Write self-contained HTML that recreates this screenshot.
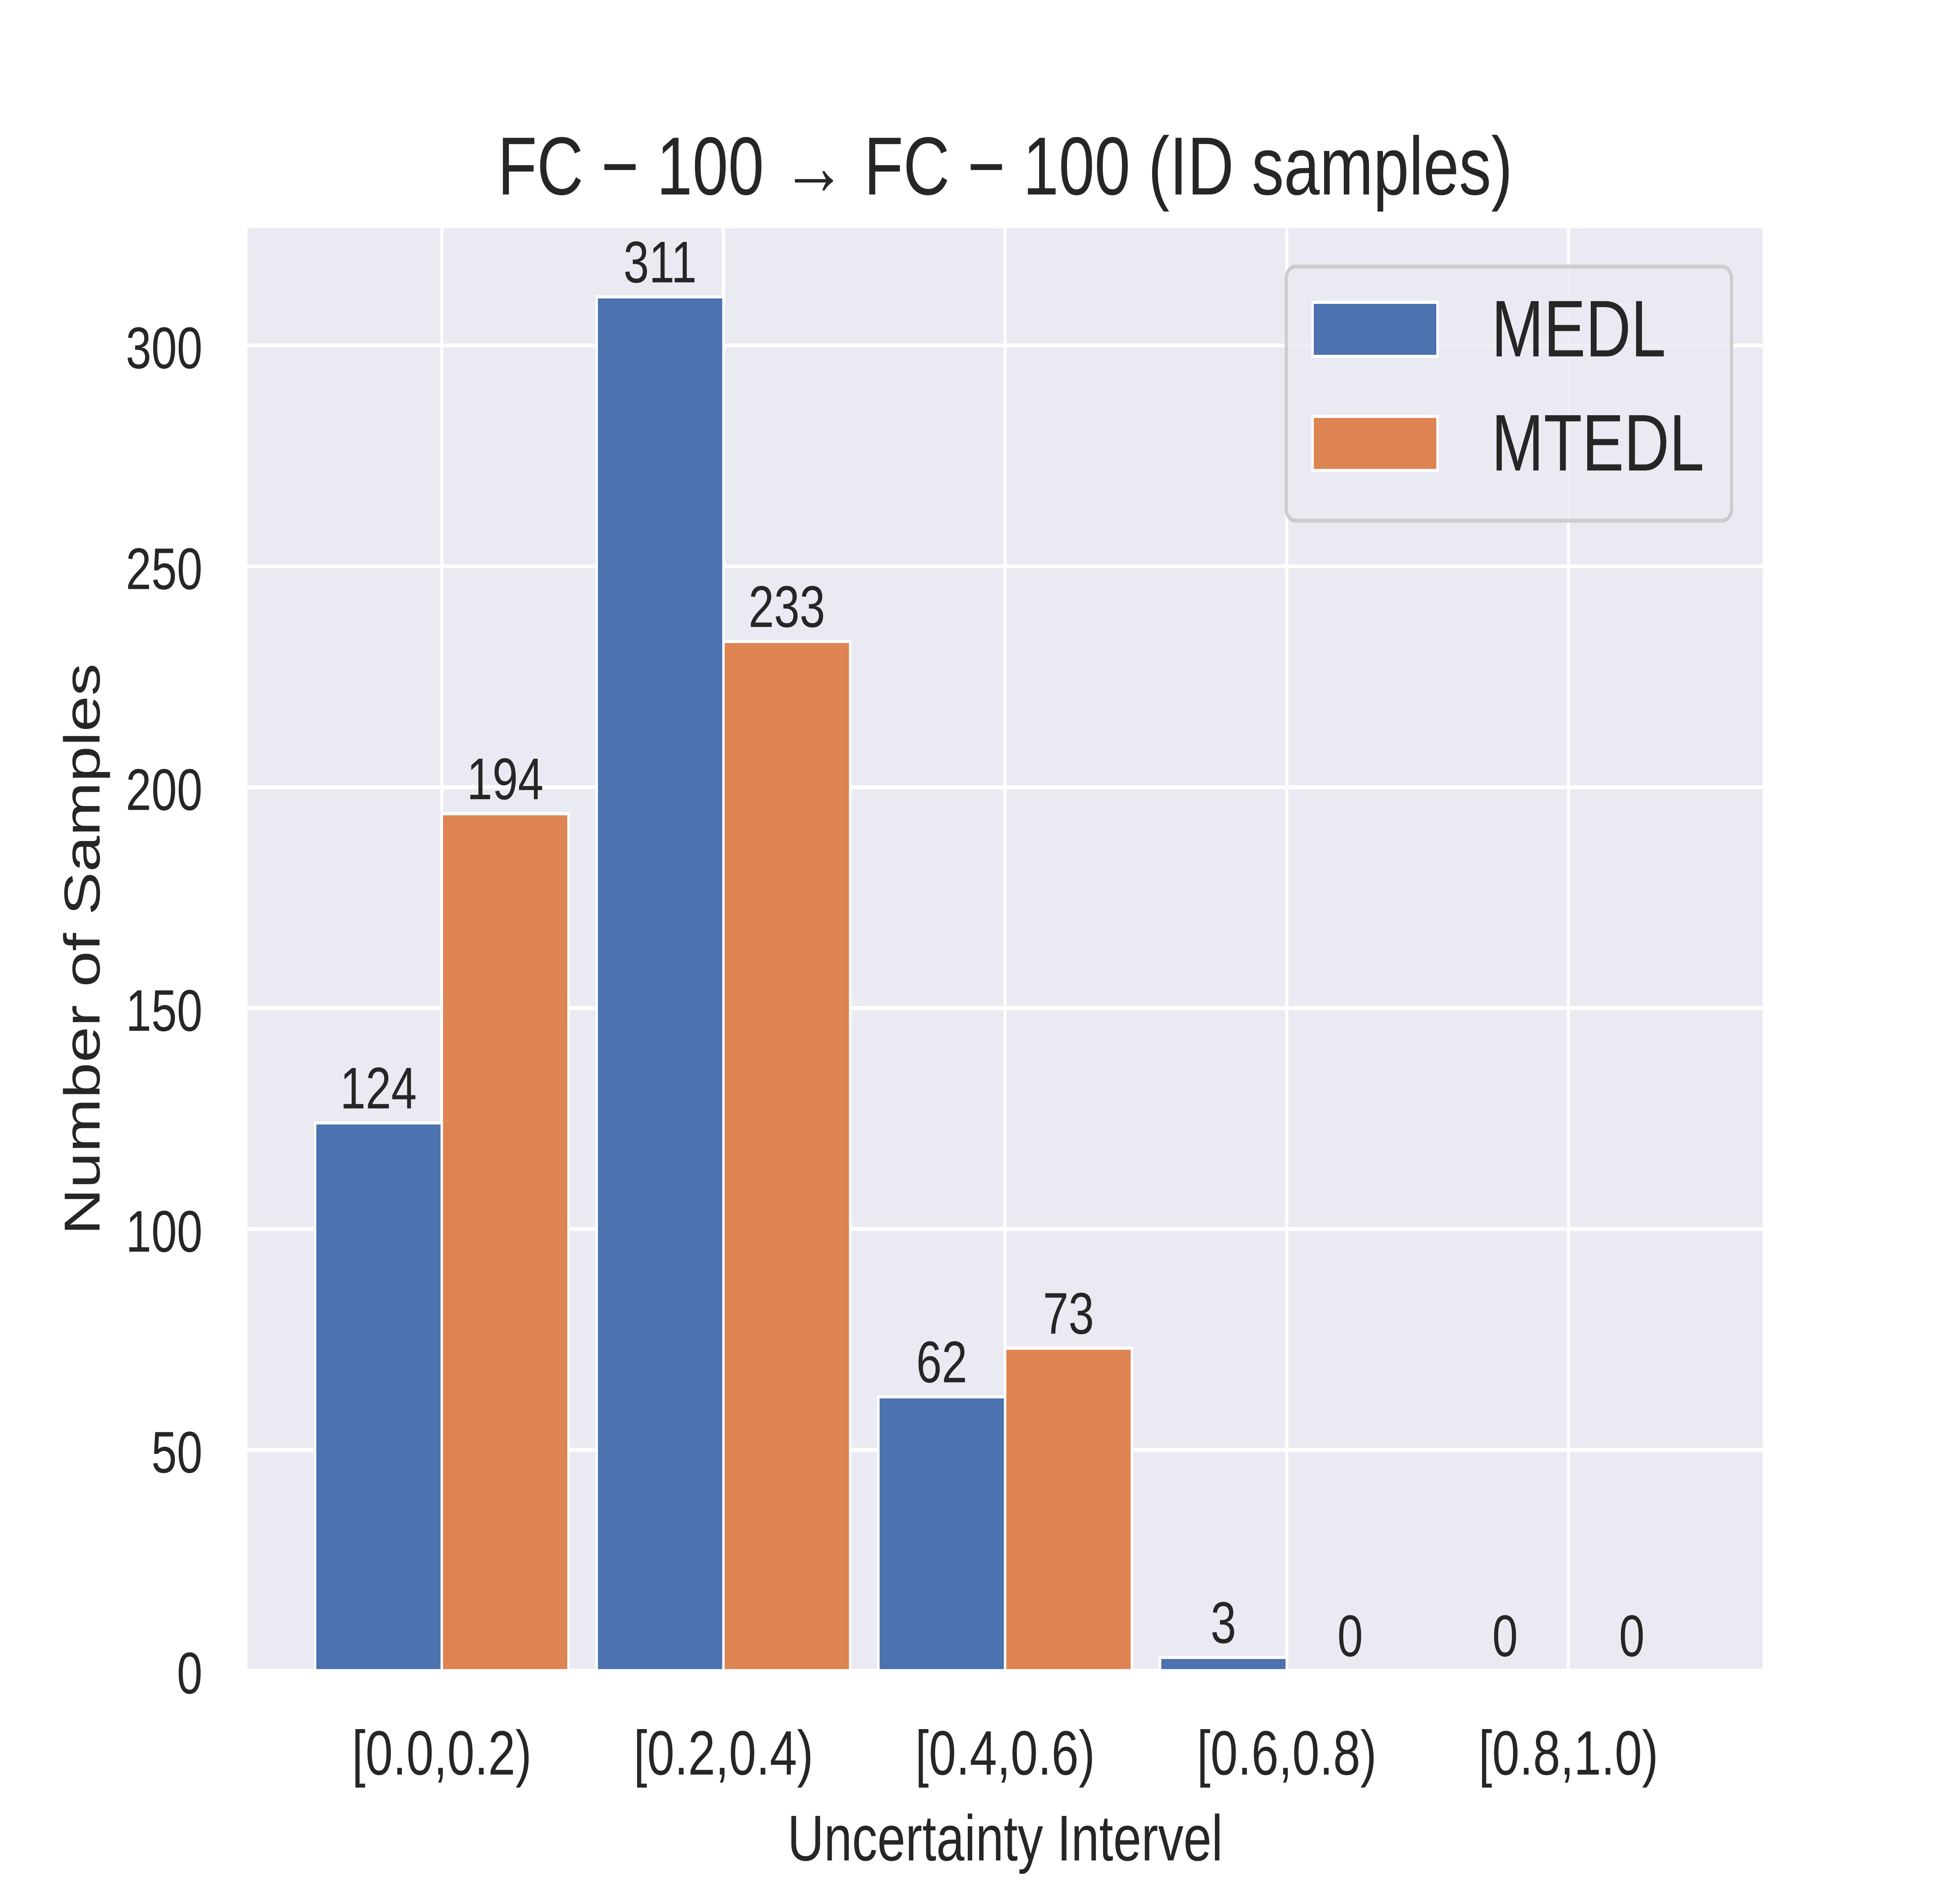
<!DOCTYPE html>
<html><head><meta charset="utf-8">
<style>
html,body{margin:0;padding:0;background:#fff;width:100%;height:100%;overflow:hidden;}
svg{display:block;width:100vw;height:100vh;}
text{font-family:"Liberation Sans","DejaVu Sans",sans-serif;fill:#262626;}
</style></head>
<body>
<svg id="chart" viewBox="0 0 6400 4800" preserveAspectRatio="none" xmlns="http://www.w3.org/2000/svg">
<rect x="808" y="582" width="4948" height="3679" fill="#eaeaf2"/>
<g id="grid"></g>
<g id="bars"></g>
<g id="labels"></g>
<g id="ticks"></g>
<text x="3282" y="496" font-size="210" text-anchor="middle">FC − 100 → FC − 100 (ID samples)</text>
<text x="3282" y="4745" font-size="165" text-anchor="middle">Uncertainty Intervel</text>
<text x="0" y="0" font-size="165" text-anchor="middle" transform="translate(325,2421) rotate(-90)">Number of Samples</text>
<g>
<rect x="4200" y="680" width="1454" height="648" rx="30" fill="#eaeaf2" fill-opacity="0.8" stroke="#cccccc" stroke-width="10"/>
<rect x="4286" y="771" width="408" height="138" fill="#4c72b0" stroke="#fff" stroke-width="8"/>
<text x="4870" y="909" font-size="205">MEDL</text>
<rect x="4286" y="1062" width="408" height="138" fill="#dd8452" stroke="#fff" stroke-width="8"/>
<text x="4870" y="1200" font-size="205">MTEDL</text>
</g>
</svg>
<script>
const categories = ["[0.0,0.2)", "[0.2,0.4)", "[0.4,0.6)", "[0.6,0.8)", "[0.8,1.0)"];
const medlValues = [124, 311, 62, 3, 0];
const mtedlValues = [194, 233, 73, 0, 0];
const yTickValues = [0, 50, 100, 150, 200, 250, 300];

const NS = "http://www.w3.org/2000/svg";
const L = 808, R = 5756, T = 582, B = 4261;
const xMin = -0.69, xMax = categories.length - 1 + 0.69;
const yMax = Math.max(...medlValues, ...mtedlValues) * 1.05;
function xScale(v){ return L + (v - xMin) / (xMax - xMin) * (R - L); }
function yScale(v){ return B - v / yMax * (B - T); }
function mk(tag, attrs, parent){
  const e = document.createElementNS(NS, tag);
  for (const k in attrs) e.setAttribute(k, attrs[k]);
  parent.appendChild(e);
  return e;
}
const grid = document.getElementById('grid');
const bars = document.getElementById('bars');
const labels = document.getElementById('labels');
const ticks = document.getElementById('ticks');

yTickValues.forEach(v => {
  const y = yScale(v);
  const g = mk('line', {x1: L, x2: R, y1: y, y2: y, stroke: '#fff', 'stroke-width': 10}, grid);
  
  
  const t = mk('text', {x: 661, y: y + 58, 'font-size': 150, 'text-anchor': 'end'}, ticks);
  t.textContent = String(v);
  
  
});
categories.forEach((c, i) => {
  const x = xScale(i);
  const g = mk('line', {x1: x, x2: x, y1: T, y2: B, stroke: '#fff', 'stroke-width': 10}, grid);
  
  
  const t = mk('text', {x: x, y: 4526, 'font-size': 160, 'text-anchor': 'middle'}, ticks);
  t.textContent = c;
  
  
});
const bw = 0.45;
function drawSeries(vals, offset, color, name){
  vals.forEach((v, i) => {
    const x0 = xScale(i + offset - bw / 2), x1 = xScale(i + offset + bw / 2);
    const y = yScale(v);
    const r = mk('rect', {x: x0, y: y, width: x1 - x0, height: B - y, fill: color, stroke: '#fff', 'stroke-width': 8}, bars);
    
    
    const t = mk('text', {x: (x0 + x1) / 2, y: y - 37, 'font-size': 150, 'text-anchor': 'middle'}, labels);
    t.textContent = String(v);
    
    
  });
}
drawSeries(medlValues, -bw / 2, '#4c72b0', 'medl');
drawSeries(mtedlValues, bw / 2, '#dd8452', 'mtedl');
</script>
</body></html>
